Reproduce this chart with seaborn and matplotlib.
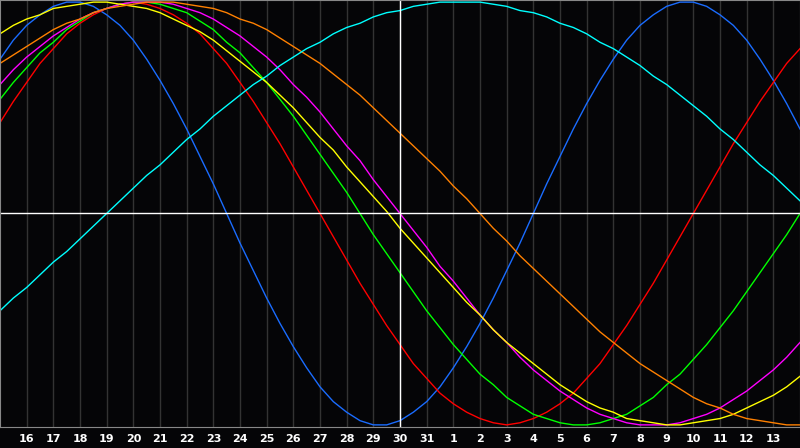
import numpy as np
import pandas as pd
import matplotlib
matplotlib.use('Agg')
import matplotlib.pyplot as plt
import seaborn as sns

# days shown on the chart (15th of one month to 14th of the next), today = 30
days = list(range(15, 32)) + list(range(1, 15))
today = 30

# biorhythm values in percent, sampled every half day from the left edge
physical = [73, 82, 89, 94, 98, 100, 100, 98, 94, 89, 82, 73, 63, 52, 40, 27, 14, 0, -14, -27, -40, -52, -63, -73, -82, -89, -94, -98, -100, -100, -98, -94, -89, -82, -73, -63, -52, -40, -27, -14, 0, 14, 27, 40, 52, 63, 73, 82, 89, 94, 98, 100, 100, 98, 94, 89, 82, 73, 63, 52, 40]
emotional = [43, 53, 62, 71, 78, 85, 90, 94, 97, 99, 100, 99, 97, 94, 90, 85, 78, 71, 62, 53, 43, 33, 22, 11, 0, -11, -22, -33, -43, -53, -62, -71, -78, -85, -90, -94, -97, -99, -100, -99, -97, -94, -90, -85, -78, -71, -62, -53, -43, -33, -22, -11, 0, 11, 22, 33, 43, 53, 62, 71, 78]
intellectual = [54, 62, 69, 76, 81, 87, 91, 95, 97, 99, 100, 100, 99, 97, 95, 91, 87, 81, 76, 69, 62, 54, 46, 37, 28, 19, 10, 0, -10, -19, -28, -37, -46, -54, -62, -69, -76, -81, -87, -91, -95, -97, -99, -100, -100, -99, -97, -95, -91, -87, -81, -76, -69, -62, -54, -46, -37, -28, -19, -10, 0]
intuitive = [61, 68, 74, 79, 84, 88, 92, 95, 97, 99, 100, 100, 100, 99, 97, 95, 92, 88, 84, 79, 74, 68, 61, 55, 48, 40, 32, 25, 16, 8, 0, -8, -16, -25, -32, -40, -48, -55, -61, -68, -74, -79, -84, -88, -92, -95, -97, -99, -100, -100, -100, -99, -97, -95, -92, -88, -84, -79, -74, -68, -61]
aesthetic = [85, 89, 92, 94, 97, 98, 99, 100, 100, 99, 98, 97, 95, 92, 89, 86, 82, 77, 72, 67, 62, 56, 50, 43, 36, 30, 22, 15, 8, 1, -7, -14, -21, -28, -35, -42, -48, -55, -61, -66, -71, -76, -81, -85, -89, -92, -94, -97, -98, -99, -100, -100, -99, -98, -97, -95, -92, -89, -86, -82, -77]
awareness = [71, 75, 79, 83, 87, 90, 92, 95, 97, 98, 99, 100, 100, 100, 99, 98, 97, 95, 92, 90, 87, 83, 79, 75, 71, 66, 61, 56, 50, 44, 38, 32, 26, 20, 13, 7, 0, -7, -13, -20, -26, -32, -38, -44, -50, -56, -61, -66, -71, -75, -79, -83, -87, -90, -92, -95, -97, -98, -99, -100, -100]
spiritual = [-46, -40, -35, -29, -23, -18, -12, -6, 0, 6, 12, 18, 23, 29, 35, 40, 46, 51, 56, 61, 65, 70, 74, 78, 81, 85, 88, 90, 93, 95, 96, 98, 99, 100, 100, 100, 100, 99, 98, 96, 95, 93, 90, 88, 85, 81, 78, 74, 70, 65, 61, 56, 51, 46, 40, 35, 29, 23, 18, 12, 6]

series = {
    'physical': physical,
    'emotional': emotional,
    'intellectual': intellectual,
    'intuitive': intuitive,
    'aesthetic': aesthetic,
    'awareness': awareness,
    'spiritual': spiritual,
}
colors = ['#1a6cff', '#ff0000', '#00ff00', '#ff00ff', '#ffff00', '#ff8000', '#00ffff']

pos = np.arange(len(physical)) / 2
df = pd.concat([pd.DataFrame({'pos': pos, 'value': v, 'cycle': k}) for k, v in series.items()])

bg = '#050507'
fig = plt.figure(figsize=(8, 4.48), dpi=100, facecolor=bg)
ax = fig.add_axes([0, 21 / 448, 1, 427 / 448])
ax.set_facecolor(bg)

# one faint grid line per day
for i in range(1, len(days) - 1):
    ax.axvline(i, color='#333333', lw=1)

sns.lineplot(data=df, x='pos', y='value', hue='cycle', palette=colors, lw=1, legend=False, ax=ax)

ax.axvline(days.index(today), color='white', lw=1)
ax.axhline(0, color='white', lw=1)

ax.set_xlim(0, len(days) - 1)
ax.set_ylim(-101, 101)
ax.set_xticks(range(1, len(days) - 1))
ax.set_xticklabels([str(d) for d in days[1:-1]], color='white', fontweight='bold', fontsize=8)
ax.tick_params(length=0, pad=5)
ax.set_yticks([])
ax.set_xlabel('')
ax.set_ylabel('')
for s in ax.spines.values():
    s.set_color('#888888')

fig.savefig('out.png', dpi=100, facecolor=fig.get_facecolor())
